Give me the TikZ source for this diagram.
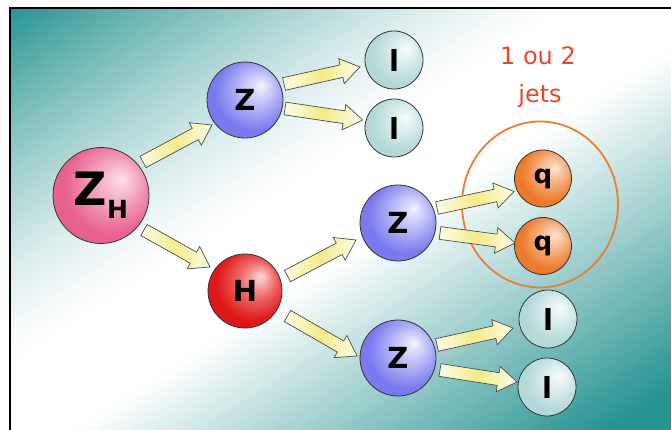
\documentclass[tikz,border=0pt]{standalone}
\usepackage{fontspec}
\setmainfont{DejaVu Sans}
\usetikzlibrary{calc,shapes.geometric}
\definecolor{tealC}{RGB}{40,148,146}
\definecolor{pinkL}{HTML}{FCE0EA}
\definecolor{pinkD}{HTML}{E8608E}
\definecolor{blueL}{HTML}{F2F2FF}
\definecolor{blueD}{HTML}{7A7AEE}
\definecolor{redL}{HTML}{FBD8D8}
\definecolor{redM}{HTML}{F06868}
\definecolor{redD}{HTML}{DE1818}
\definecolor{cyanL}{HTML}{F6FCFC}
\definecolor{cyanD}{HTML}{B4D8D8}
\definecolor{orangeL}{HTML}{FDE4D0}
\definecolor{orangeD}{HTML}{EC7A2A}
\definecolor{jetred}{HTML}{E8482A}
\definecolor{ringor}{HTML}{EE7D32}
\definecolor{arrY}{HTML}{F2EB8A}
\definecolor{arrW}{HTML}{FCFCE6}
\pgfdeclareradialshading{pinkball}{\pgfpoint{11bp}{9bp}}{color(0bp)=(pinkL); color(25bp)=(pinkD); color(50bp)=(pinkD)}
\pgfdeclareradialshading{blueball}{\pgfpoint{11bp}{10bp}}{color(0bp)=(blueL); color(25bp)=(blueD); color(50bp)=(blueD)}
\pgfdeclareradialshading{redball}{\pgfpoint{11bp}{10bp}}{color(0bp)=(redL); color(12bp)=(redM); color(25bp)=(redD); color(50bp)=(redD)}
\pgfdeclareradialshading{cyanball}{\pgfpoint{11bp}{10bp}}{color(0bp)=(cyanL); color(25bp)=(cyanD); color(50bp)=(cyanD)}
\pgfdeclareradialshading{orangeball}{\pgfpoint{11bp}{10bp}}{color(0bp)=(orangeL); color(25bp)=(orangeD); color(50bp)=(orangeD)}
\tikzset{
  ball/.style={circle, draw=black!80, line width=0.8pt, inner sep=0pt, font=\bfseries},
  zhball/.style={ball, minimum size=96pt, shading=pinkball},
  zball/.style={ball, minimum size=76pt, shading=blueball, font=\bfseries\fontsize{29}{29}\selectfont},
  hball/.style={ball, minimum size=74pt, shading=redball, font=\bfseries\fontsize{29}{29}\selectfont},
  lball/.style={ball, minimum size=58pt, shading=cyanball, font=\bfseries\fontsize{29}{29}\selectfont},
  qball/.style={ball, minimum size=57pt, shading=orangeball, font=\bfseries\fontsize{26}{26}\selectfont},
  arrowbox/.style={draw=black!70, line width=0.7pt, line join=miter, left color=arrW, right color=arrW, middle color=arrY},
  jettext/.style={text=jetred, font=\fontsize{24}{24}\selectfont, inner sep=0pt, anchor=base},
}
\newcommand\barrow[2]{%
  \coordinate (ta) at #1;
  \coordinate (tb) at #2;
  \coordinate (tc) at ($(tb)!19pt!(ta)$);
  \draw[arrowbox] ($(ta)!6.4pt!90:(tb)$) -- ($(tc)!6.4pt!-90:(ta)$) -- ($(tc)!12.8pt!-90:(ta)$) -- (tb)
     -- ($(tc)!12.8pt!90:(ta)$) -- ($(tc)!6.4pt!90:(ta)$) -- ($(ta)!6.4pt!-90:(tb)$) -- cycle;
}
\begin{document}
\begin{tikzpicture}[x=1pt,y=-1pt]
\useasboundingbox (0,0) rectangle (671,430);
\fill[white] (0,0) rectangle (671,430);
% diagonal background gradient: teal -> white -> teal
\begin{scope}
\clip (10,8) rectangle (671,430);
\foreach \i in {0,...,119} {
  \pgfmathsetmacro\s{(\i+0.5)/120}
  \pgfmathsetmacro\pa{100*(max(0.0001,0.42-\s)/0.42)^1.3}
  \pgfmathsetmacro\pb{min(100,max(0,100*(\s-0.55)/0.4))}
  \pgfmathsetmacro\pp{\s<0.42 ? \pa : \pb}
  \pgfmathsetmacro\ua{-355.7+\i*5.928}
  \pgfmathsetmacro\ub{\ua+6.9}
  \fill[tealC!\pp!white]
    ({340.5+\ua*0.538+500*0.843},{219+\ua*0.843-500*0.538}) --
    ({340.5+\ub*0.538+500*0.843},{219+\ub*0.843-500*0.538}) --
    ({340.5+\ub*0.538-500*0.843},{219+\ub*0.843+500*0.538}) --
    ({340.5+\ua*0.538-500*0.843},{219+\ua*0.843+500*0.538}) -- cycle;
}
\end{scope}
\draw[black, line width=1.2pt] (10,430) -- (10,8) -- (671,8);

% balls
\node[zhball] (zh) at (101,195.5) {\fontsize{46}{46}\selectfont Z\raisebox{-13pt}{\fontsize{25}{25}\selectfont H}};
\node[zball] (z1) at (245,100) {Z};
\node[hball] (h) at (245,291) {H};
\node[lball] (l1) at (394,60) {l};
\node[lball] (l2) at (394,128) {l};
\node[zball] (zm) at (398,223) {Z};
\node[zball] (zb) at (398,358) {Z};
\node[qball] (q1) at (543,178.5) {\raisebox{-5pt}{q}};
\node[qball] (q2) at (543,246) {\raisebox{-5pt}{q}};
\node[lball] (l3) at (548,319) {l};
\node[lball] (l4) at (547,387) {l};

% jets ring and label
\node[draw=ringor, line width=1.8pt, ellipse, minimum width=156pt, minimum height=166pt, inner sep=0pt] (ring) at (540,204.5) {};
\node[jettext] (t1) at (538,65) {1 ou 2};
\node[jettext] (t2) at (540,103) {jets};

% arrows
\barrow{($(zh)+(42,-33.5)$)}{($(z1)+(-33,25)$)}
\barrow{($(zh)+(43,34.5)$)}{($(h)+(-35,-24)$)}
\barrow{($(z1)+(39,-16)$)}{($(l1)+(-34,7)$)}
\barrow{($(z1)+(40,8.5)$)}{($(l2)+(-31.3,-8)$)}
\barrow{($(h)+(42.5,-15)$)}{($(zm)+(-42,17)$)}
\barrow{($(h)+(42.5,25)$)}{($(zb)+(-41,-2)$)}
\barrow{($(zm)+(39,-15)$)}{($(q1)+(-29,13)$)}
\barrow{($(zm)+(42,10)$)}{($(q2)+(-28,-3)$)}
\barrow{($(zb)+(39,-13)$)}{($(l3)+(-35,9)$)}
\barrow{($(zb)+(42,12)$)}{($(l4)+(-30,-5)$)}
\end{tikzpicture}
\end{document}
